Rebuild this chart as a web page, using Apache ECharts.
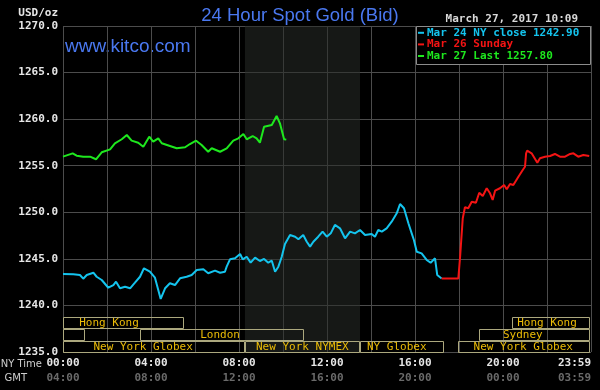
<!DOCTYPE html>
<html><head><meta charset="utf-8">
<script src="https://cdn.jsdelivr.net/npm/echarts@6/dist/echarts.min.js"></script>
<style>html,body{margin:0;padding:0;background:#000}#c{width:600px;height:390px}</style>
</head><body><div id="c"></div>
<script>
// ---- data (NY time in decimal hours, price in USD/oz) ----
const closeHours = [0,0.47,0.77,0.92,1.08,1.38,1.53,1.76,2.06,2.29,2.41,2.59,2.82,3.05,3.27,3.5,3.68,3.95,4.18,4.33,4.44,4.64,4.86,5.09,5.32,5.62,5.85,6.08,6.38,6.6,6.91,7.14,7.36,7.44,7.59,7.82,8.05,8.17,8.35,8.53,8.73,8.95,9.14,9.33,9.49,9.64,9.79,9.94,10.09,10.32,10.55,10.7,10.92,11.08,11.23,11.38,11.6,11.8,11.99,12.17,12.36,12.59,12.82,13.05,13.27,13.5,13.73,13.8,14.03,14.18,14.33,14.49,14.71,14.94,15.17,15.32,15.5,15.7,15.85,15.95,16.08,16.3,16.53,16.71,16.91,17.01,17.21];
const closeValues = [1243.37,1243.34,1243.27,1242.87,1243.27,1243.51,1243.08,1242.73,1241.9,1242.19,1242.55,1241.84,1242.0,1241.84,1242.44,1243.08,1243.99,1243.62,1242.98,1241.66,1240.7,1241.84,1242.38,1242.19,1242.91,1243.08,1243.27,1243.8,1243.88,1243.45,1243.73,1243.51,1243.62,1244.16,1244.95,1245.06,1245.52,1244.95,1245.23,1244.59,1245.13,1244.77,1244.99,1244.59,1244.8,1243.62,1244.16,1245.2,1246.6,1247.56,1247.38,1247.1,1247.56,1246.84,1246.31,1246.84,1247.38,1247.92,1247.38,1247.74,1248.64,1248.28,1247.21,1247.92,1247.74,1248.1,1247.56,1247.38,1247.67,1247.38,1248.1,1247.92,1248.28,1248.99,1249.89,1250.89,1250.43,1248.82,1247.74,1247.02,1245.77,1245.59,1244.88,1244.59,1245.06,1243.27,1242.9];
const sundayHours = [17.21,17.97,18.05,18.17,18.27,18.42,18.58,18.77,18.92,19.08,19.26,19.41,19.53,19.64,19.86,20.05,20.17,20.32,20.47,20.7,20.92,21.0,21.05,21.1,21.3,21.56,21.68,21.91,22.14,22.36,22.59,22.82,23.05,23.2,23.42,23.65,23.92];
const sundayValues = [1242.9,1242.9,1245.23,1249.35,1250.54,1250.43,1251.14,1251.03,1252.1,1251.75,1252.58,1252.04,1251.32,1252.32,1252.58,1252.93,1252.47,1253.04,1252.93,1253.82,1254.62,1254.89,1256.33,1256.61,1256.33,1255.32,1255.8,1255.97,1256.04,1256.26,1255.97,1255.97,1256.26,1256.33,1255.97,1256.15,1256.04];
const lastHours = [0,0.44,0.62,0.92,1.23,1.5,1.76,2.14,2.36,2.67,2.9,3.12,3.42,3.65,3.92,4.1,4.33,4.49,4.86,5.17,5.55,5.77,6.05,6.3,6.6,6.76,7.14,7.44,7.74,7.97,8.2,8.35,8.62,8.8,8.95,9.14,9.49,9.71,9.86,10.05,10.15];
const lastValues = [1255.97,1256.33,1256.08,1255.97,1255.97,1255.69,1256.44,1256.76,1257.41,1257.84,1258.3,1257.69,1257.47,1257.04,1258.12,1257.58,1257.94,1257.41,1257.12,1256.87,1256.98,1257.33,1257.69,1257.22,1256.5,1256.87,1256.5,1256.87,1257.69,1257.94,1258.4,1257.84,1258.19,1257.94,1257.47,1259.19,1259.37,1260.34,1259.55,1257.84,1257.8];
const closePrice = 1242.90;
const lastPrice = 1257.80;
const seriesNames = ['Mar 24 NY close ' + closePrice.toFixed(2), 'Mar 26 Sunday', 'Mar 27 Last ' + lastPrice.toFixed(2)];
const yMin = 1235, yMax = 1270, yStep = 5;
const xMin = 0, xMax = 24, xStep = 2, labelStep = 4, gmtOffset = 4;
const nymexSession = [8.27, 13.5];
const sessionNames = ['Hong Kong','','London','New York Globex','New York NYMEX','NY Globex','New York Globex','Sydney','Hong Kong'];
const sessionStart = [0, 0, 3.5, 0, 8.27, 13.5, 17.97, 18.92, 20.42];
const sessionEnd   = [5.47, 0.97, 10.92, 8.24, 13.45, 17.29, 23.92, 23.92, 23.92];
const sessionRow   = [0, 1, 1, 2, 2, 2, 2, 1, 0];
const sessionLabelAt = [2.09, 0.5, 7.14, 3.64, 10.88, 15.17, 20.92, 20.9, 22.0];
const updated = 'March 27, 2017 10:09';

// ---- chart ----
const MONO = 'DejaVu Sans Mono';
const pad = n => String(n).padStart(2, '0');
const hh = v => v >= 24 ? '23:59' : pad(v % 24) + ':00';
const gmt = v => v >= 24 ? pad(gmtOffset - 1) + ':59' : pad((v + gmtOffset) % 24) + ':00';
const zip = (a, b) => a.map((x, i) => [x, b[i]]);
const colors = ['#14c4ee', '#f41414', '#1ee81e'];

const chart = echarts.init(document.getElementById('c'), null, {renderer: 'canvas'});
chart.setOption({
  backgroundColor: '#000',
  animation: false,
  grid: {left: 63, top: 26, width: 528, height: 326, containLabel: false},
  xAxis: {
    type: 'value', min: xMin, max: xMax, interval: xStep,
    axisLine: {show: false}, axisTick: {show: false},
    splitLine: {show: true, lineStyle: {color: '#4c4c4c', width: 1}},
    axisLabel: {
      margin: 4, showMaxLabel: true, alignMaxLabel: 'right',
      formatter: v => v % labelStep ? '' : '{a|' + hh(v) + '}\n{b|' + gmt(v) + '}',
      rich: {
        a: {color: '#e6e6e6', fontFamily: MONO, fontWeight: 'bold', fontSize: 11, lineHeight: 15},
        b: {color: '#6a6a6a', fontFamily: MONO, fontWeight: 'bold', fontSize: 11, lineHeight: 15}
      }
    }
  },
  yAxis: {
    type: 'value', min: yMin, max: yMax, interval: yStep,
    axisLine: {show: false}, axisTick: {show: false},
    splitLine: {show: true, lineStyle: {color: '#4c4c4c', width: 1}},
    axisLabel: {formatter: v => v.toFixed(1), color: '#e6e6e6', fontFamily: MONO, fontWeight: 'bold', fontSize: 11, margin: 5}
  },
  legend: {
    orient: 'vertical', left: 418, top: 27, itemGap: 0, itemWidth: 6, itemHeight: 2, icon: 'rect',
    padding: 0, z: 12, selectedMode: false,
    textStyle: {fontFamily: MONO, fontWeight: 'bold', fontSize: 11, lineHeight: 11.6, padding: [0, 0, 0, -2]},
    data: seriesNames.map((n, i) => ({name: n, textStyle: {color: colors[i]}}))
  },
  graphic: [
    {type: 'text', left: 'center', top: 6, style: {text: '24 Hour Spot Gold (Bid)', fill: '#4a78f0', font: '18.5px "Liberation Sans", Arial, sans-serif'}},
    {type: 'text', x: 65, y: 46.5, style: {text: 'www.kitco.com', fill: '#4a78f0', font: '19px "Liberation Sans", Arial, sans-serif', verticalAlign: 'middle'}},
    {type: 'text', x: 58, y: 13, style: {text: 'USD/oz', fill: '#e6e6e6', font: 'bold 11px "DejaVu Sans Mono"', align: 'right', verticalAlign: 'middle'}},
    {type: 'text', x: 578, y: 19.5, style: {text: updated, fill: '#d8d8d8', font: 'bold 11px "DejaVu Sans Mono"', align: 'right', verticalAlign: 'middle'}},
    {type: 'text', x: 42, y: 364, style: {text: 'NY Time', fill: '#cfcfcf', font: '10px "DejaVu Sans"', align: 'right', verticalAlign: 'middle'}},
    {type: 'text', x: 27, y: 378, style: {text: 'GMT', fill: '#cfcfcf', font: '10px "DejaVu Sans"', align: 'right', verticalAlign: 'middle'}},
    {type: 'rect', z: 10, shape: {x: 416.5, y: 26.5, width: 174, height: 38}, style: {fill: '#000', stroke: '#8c8c8c', lineWidth: 1}}
  ],
  series: [
    {
      name: seriesNames[0], type: 'line', data: zip(closeHours, closeValues), showSymbol: false, symbol: 'none',
      lineStyle: {color: colors[0], width: 2}, itemStyle: {color: colors[0]}, z: 4,
      markArea: {silent: true, itemStyle: {color: 'rgba(40,44,40,0.55)'}, data: [[{xAxis: nymexSession[0]}, {xAxis: nymexSession[1]}]]}
    },
    {name: seriesNames[1], type: 'line', data: zip(sundayHours, sundayValues), showSymbol: false, symbol: 'none',
      lineStyle: {color: colors[1], width: 2}, itemStyle: {color: colors[1]}, z: 4},
    {name: seriesNames[2], type: 'line', data: zip(lastHours, lastValues), showSymbol: false, symbol: 'none',
      lineStyle: {color: colors[2], width: 2}, itemStyle: {color: colors[2]}, z: 4},
    {
      type: 'custom', silent: true, z: 3,
      data: sessionNames.map((n, i) => [sessionStart[i], sessionEnd[i], sessionRow[i], sessionLabelAt[i]]),
      encode: {x: [0, 1]},
      renderItem: (params, api) => {
        const s = api.coord([api.value(0), yMin]);
        const e = api.coord([api.value(1), yMin]);
        const l = api.coord([api.value(3), yMin]);
        const top = s[1] - (3 - api.value(2)) * 12 + 1;
        return {type: 'group', children: [
          {type: 'rect', shape: {x: Math.round(s[0]) + 0.5, y: Math.round(top) + 0.5, width: Math.round(e[0] - s[0]), height: 11},
            style: {fill: null, stroke: '#aca87e', lineWidth: 1}},
          {type: 'text', style: {text: sessionNames[params.dataIndex], x: l[0], y: top + 6.5, align: 'center', verticalAlign: 'middle',
            fill: '#ecbc06', font: '11px "DejaVu Sans Mono"'}}
        ]};
      }
    }
  ]
});
</script></body></html>
